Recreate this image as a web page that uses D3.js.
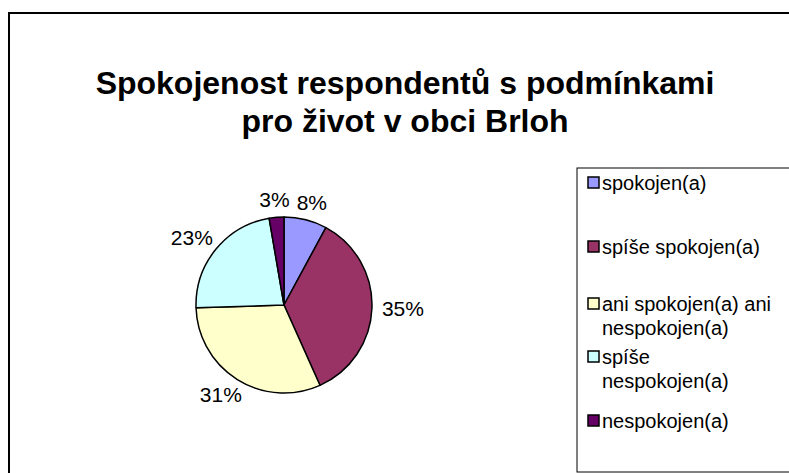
<!DOCTYPE html>
<html>
<head>
<meta charset="utf-8">
<script src="https://cdn.jsdelivr.net/npm/d3@7/dist/d3.min.js"></script>
<style>
  body { margin: 0; background: #fff; }
  svg { display: block; font-family: "Liberation Sans", Arial, sans-serif; }
</style>
</head>
<body>
<div id="chart"></div>
<script>
// data
var categories = ['spokojen(a)', 'spíše spokojen(a)', 'ani spokojen(a) ani nespokojen(a)',
                  'spíše nespokojen(a)', 'nespokojen(a)'];
var shares = [7.9, 35.4, 31.2, 22.8, 2.7];
var colors = ['#9999FF', '#993366', '#FFFFCC', '#CCFFFF', '#660066'];
var titleLines = ['Spokojenost respondentů s podmínkami', 'pro život v obci Brloh'];

var width = 789, height = 473;
var cx = 284, cy = 305, radius = 88;

var svg = d3.select('#chart')
    .append('svg')
    .attr('width', width)
    .attr('height', height);

// chart frame (runs off the right and bottom edge)
svg.append('rect')
    .attr('x', 9).attr('y', 13)
    .attr('width', width + 20).attr('height', height + 20)
    .attr('fill', '#fff')
    .attr('stroke', '#000')
    .attr('stroke-width', 2);

svg.selectAll('text.title')
    .data(titleLines)
    .enter()
    .append('text')
    .attr('class', 'title')
    .attr('x', 405)
    .attr('y', function(d, i) { return 94 + i * 38; })
    .attr('text-anchor', 'middle')
    .attr('font-size', 32)
    .attr('font-weight', 'bold')
    .text(function(d) { return d; });

var pie = d3.pie().sort(null).value(function(d) { return d; });
var arcs = pie(shares);
var arc = d3.arc().innerRadius(0).outerRadius(radius);

var g = svg.append('g')
    .attr('transform', 'translate(' + cx + ',' + cy + ')');

g.selectAll('path')
    .data(arcs)
    .enter()
    .append('path')
    .attr('d', arc)
    .attr('fill', function(d, i) { return colors[i]; })
    .attr('stroke', '#000')
    .attr('stroke-width', 1.5)
    .attr('stroke-linejoin', 'round');

// labels sit just outside the rim, pushed out by half their own size
var labelArc = d3.arc().innerRadius(radius + 10).outerRadius(radius + 10);
g.selectAll('text.pct')
    .data(arcs)
    .enter()
    .append('text')
    .attr('class', 'pct')
    .attr('text-anchor', 'middle')
    .attr('font-size', 21)
    .text(function(d) { return Math.round(d.value) + '%'; })
    .attr('transform', function(d) {
      var c = labelArc.centroid(d);
      var a = (d.startAngle + d.endAngle) / 2;
      var w = this.getComputedTextLength();
      var x = c[0] + Math.sin(a) * w / 2;
      var y = c[1] - Math.cos(a) * 8 + 7.5;
      return 'translate(' + x + ',' + y + ')';
    });

// legend
var legendRowY = [183, 247, 304, 357, 421];
var legend = svg.append('g');
legend.append('rect')
    .attr('x', 577).attr('y', 168)
    .attr('width', 300).attr('height', 304)
    .attr('fill', '#fff')
    .attr('stroke', '#000')
    .attr('stroke-width', 1);

var items = legend.selectAll('g.item')
    .data(categories)
    .enter()
    .append('g')
    .attr('class', 'item')
    .attr('transform', function(d, i) {
      return 'translate(588,' + legendRowY[i] + ')';
    });

items.append('rect')
    .attr('x', 0).attr('y', -6)
    .attr('width', 11).attr('height', 11)
    .attr('fill', function(d, i) { return colors[i]; })
    .attr('stroke', '#000')
    .attr('stroke-width', 1.5);

items.each(function(d) {
  var t = d3.select(this).append('text')
      .attr('x', 14).attr('y', 7)
      .attr('font-size', 20);
  var words = d.split(' '), line = [];
  var tspan = t.append('tspan').attr('x', 14).attr('dy', 0);
  words.forEach(function(w) {
    line.push(w);
    tspan.text(line.join(' '));
    if (tspan.node().getComputedTextLength() > 178 && line.length > 1) {
      line.pop();
      tspan.text(line.join(' '));
      line = [w];
      tspan = t.append('tspan').attr('x', 14).attr('dy', 24).text(w);
    }
  });
});
</script>
</body>
</html>
